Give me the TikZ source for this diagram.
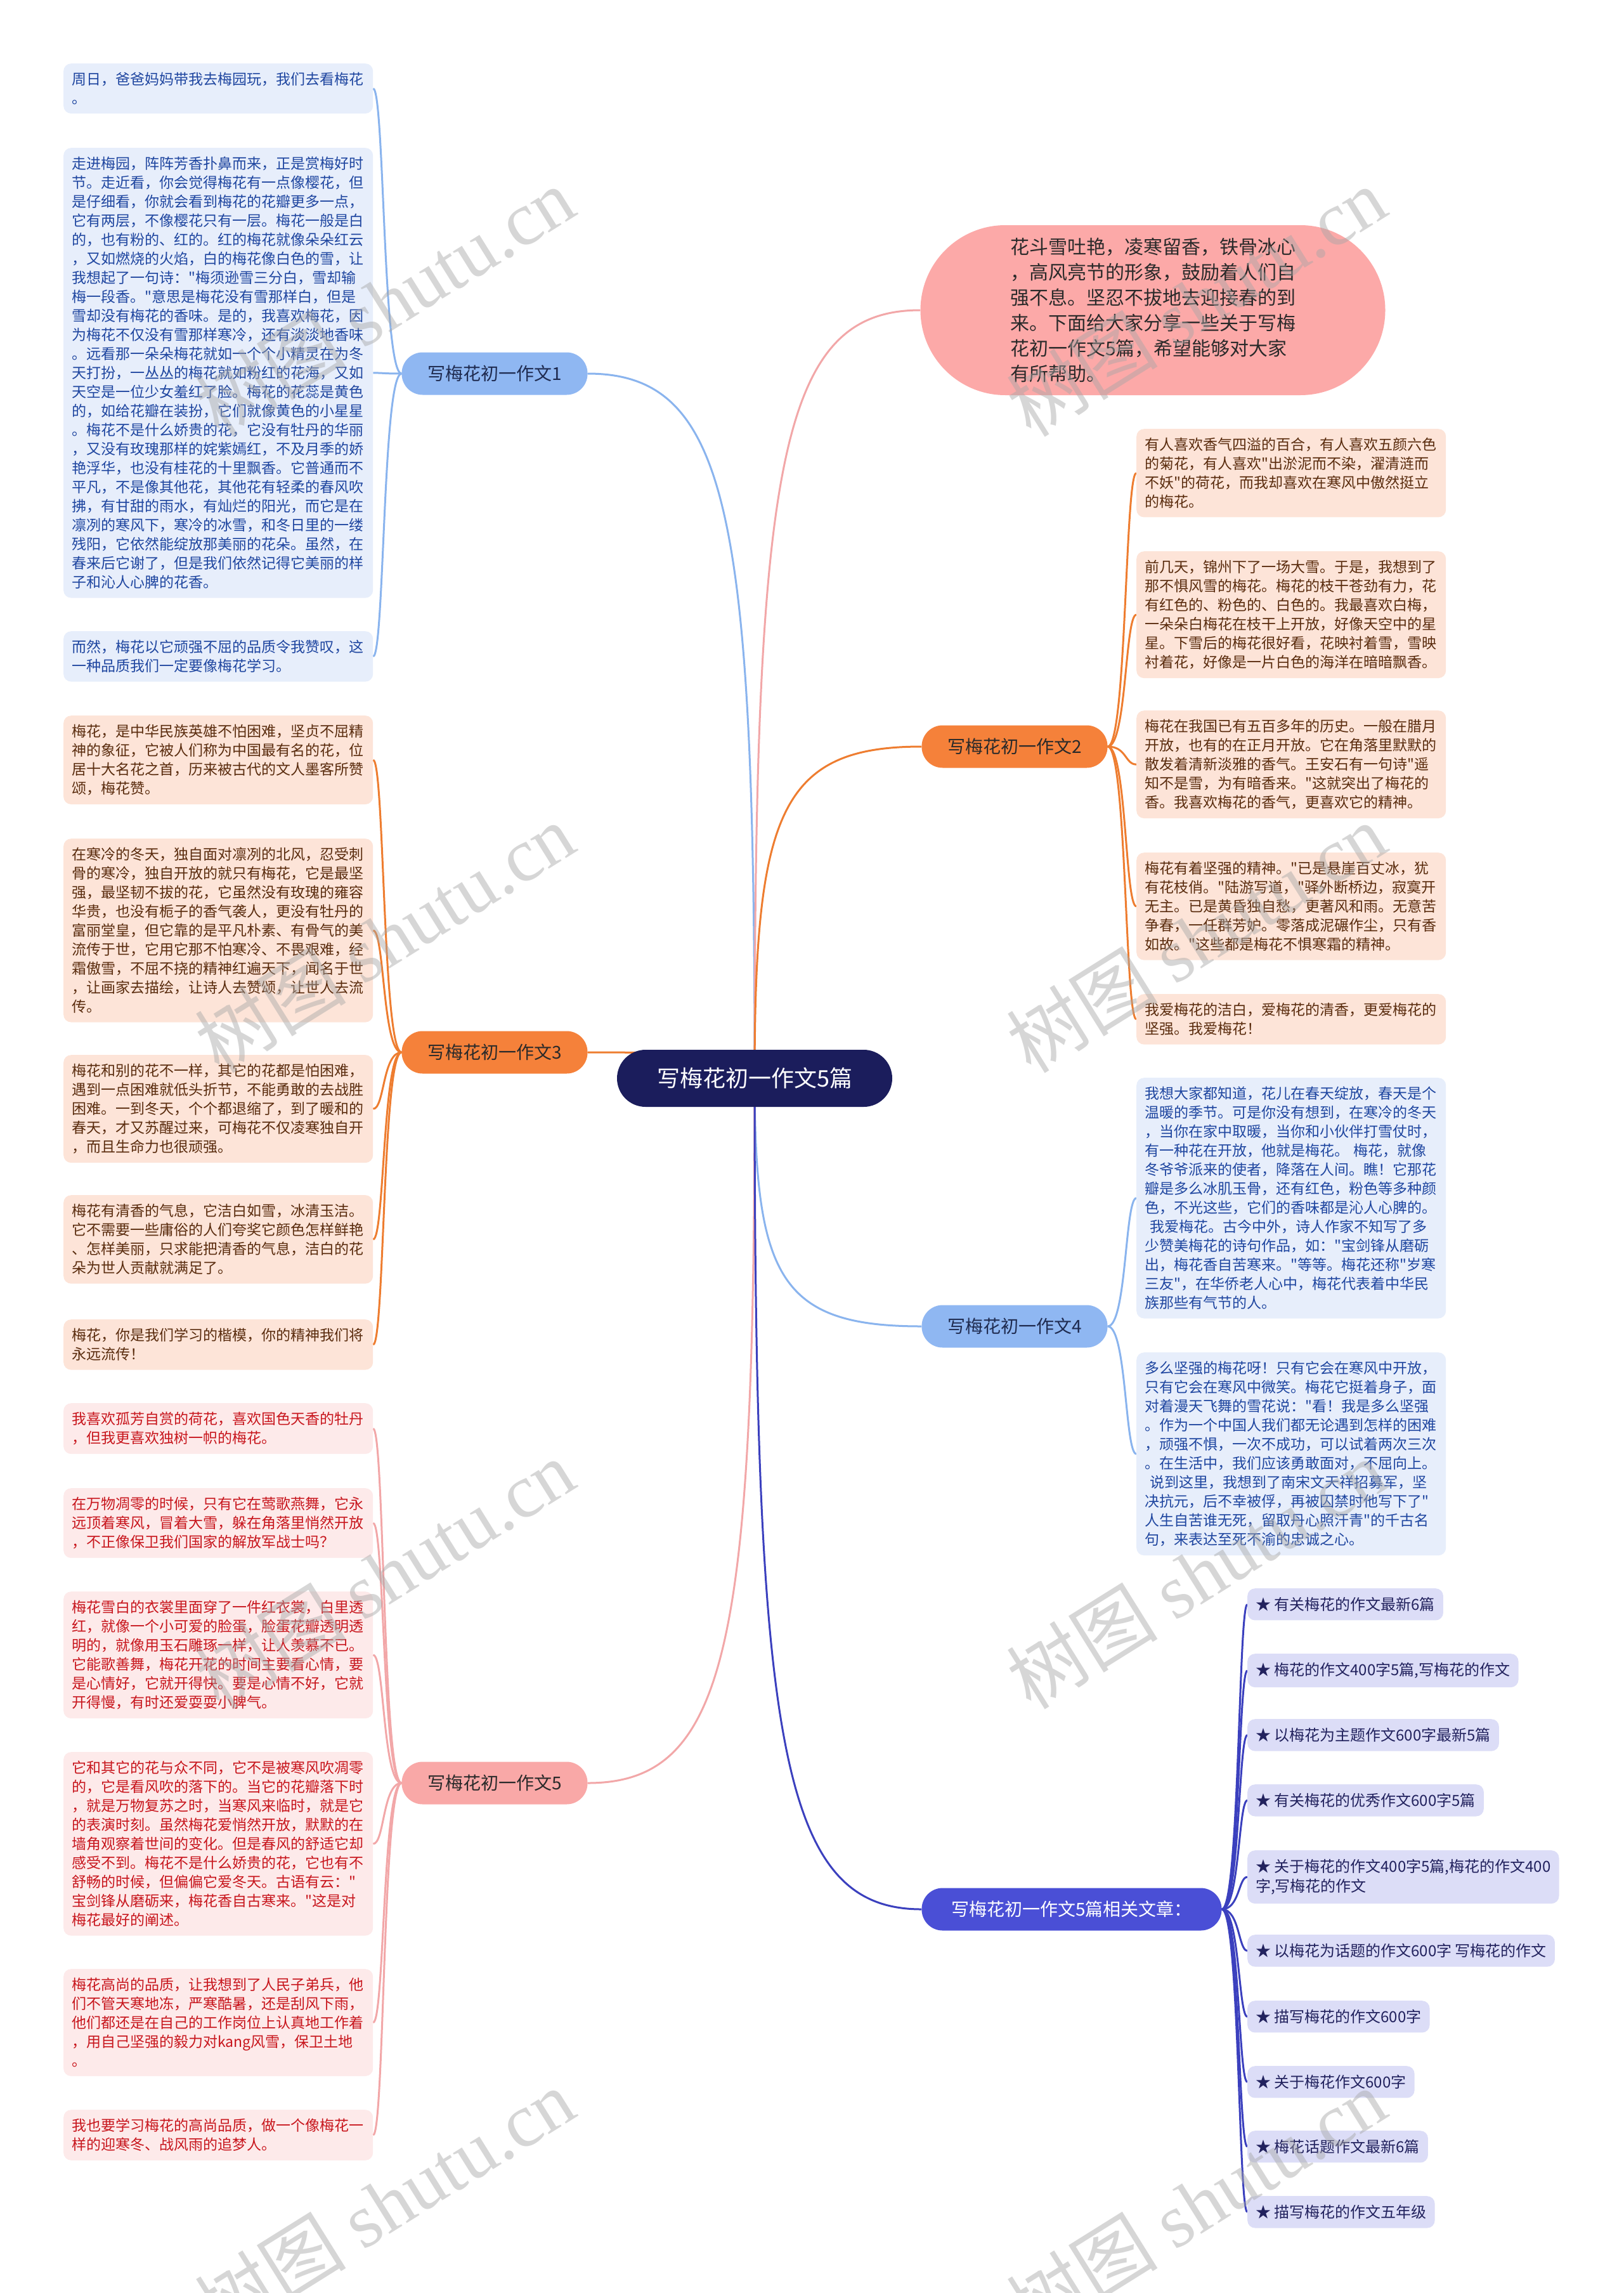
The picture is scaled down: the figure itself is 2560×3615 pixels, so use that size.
\documentclass[tikz,border=0pt]{standalone}
\usepackage{fontspec}
\setmainfont{Noto Sans CJK SC}[Ligatures=TeXOff]
\newfontfamily\wmserif{Liberation Serif}
\usetikzlibrary{calc}
\pgfdeclarelayer{bg}
\pgfdeclarelayer{fg}
\pgfsetlayers{bg,main,fg}

\definecolor{rootfill}{HTML}{1B1D5C}
\definecolor{bluefill}{HTML}{8FB7F2}
\definecolor{orangefill}{HTML}{F5813A}
\definecolor{pinkfill}{HTML}{F9A8A7}
\definecolor{relfill}{HTML}{4A4FD6}
\definecolor{introfill}{HTML}{FCA9A8}
\definecolor{blueline}{HTML}{8AB4EE}
\definecolor{orangeline}{HTML}{EE7D30}
\definecolor{pinkline}{HTML}{F2A7A8}
\definecolor{relline}{HTML}{3B40BE}
\definecolor{blueleaf}{HTML}{E7EEFB}
\definecolor{bluetext}{HTML}{1F46A0}
\definecolor{peachleaf}{HTML}{FDE4D8}
\definecolor{browntext}{HTML}{5A2C0E}
\definecolor{pinkleaf}{HTML}{FDEAEA}
\definecolor{redtext}{HTML}{C8161D}
\definecolor{lavleaf}{HTML}{DCDDF7}
\definecolor{navytext}{HTML}{22225E}
\definecolor{lvltext}{HTML}{2A2A2A}
\definecolor{lvlbluetext}{HTML}{1F2B50}

\tikzset{
  mmroot/.style={fill=rootfill, text=white, rounded corners=45, minimum width=434, minimum height=90, inner sep=0, font=\fontsize{36}{40}\selectfont},
  mmlevel/.style={rounded corners=33, minimum width=293, minimum height=67, inner sep=0, font=\fontsize{28}{32}\selectfont},
  mmintro/.style={fill=introfill, text=lvltext, rounded corners=134, minimum width=733, minimum height=268, inner sep=0, text width=450, align=left, font=\fontsize{30}{40}\selectfont},
  mmleaf/.style={anchor=north west, rounded corners=12, text width=462, inner xsep=13, inner ysep=14, align=left, font=\fontsize{23}{30}\selectfont},
  leafblue/.style={mmleaf, fill=blueleaf, text=bluetext},
  leafpeach/.style={mmleaf, fill=peachleaf, text=browntext},
  leafpink/.style={mmleaf, fill=pinkleaf, text=redtext},
  mmrel/.style={anchor=north west, rounded corners=12, inner xsep=13, inner ysep=14, align=left, fill=lavleaf, text=navytext, font=\fontsize{24}{31}\selectfont},
  mainln/.style={line width=3},
  leafln/.style={line width=3},
  wm/.style={anchor=base west, rotate=32, text=gray!70, opacity=0.45, inner sep=0, font=\fontsize{120}{120}\selectfont}
}

\begin{document}
\begin{tikzpicture}[x=1pt,y=-1pt]
\useasboundingbox (0,0) rectangle (2560,3615);
\begin{pgfonlayer}{bg}
\fill[white] (0,0) rectangle (2560,3615);
\end{pgfonlayer}

% ---- root and first level ----
\node[mmroot] (root) at (1190,1700) {写梅花初一作文5篇};
\node[mmlevel, fill=bluefill, text=lvlbluetext] (n1) at (780,589) {写梅花初一作文1};
\node[mmlevel, fill=orangefill, text=lvltext] (n3) at (780,1659) {写梅花初一作文3};
\node[mmlevel, fill=pinkfill, text=lvltext] (n5) at (780,2811) {写梅花初一作文5};
\node[mmlevel, fill=orangefill, text=lvltext] (n2) at (1600,1177) {写梅花初一作文2};
\node[mmlevel, fill=bluefill, text=lvlbluetext] (n4) at (1600,2091) {写梅花初一作文4};
\node[mmlevel, fill=relfill, text=white, minimum width=473] (rel) at (1690,3010) {写梅花初一作文5篇相关文章：};
\node[mmintro] (intro) at (1818,489) {花斗雪吐艳，凌寒留香，铁骨冰心\\，高风亮节的形象，鼓励着人们自\\强不息。坚忍不拔地去迎接春的到\\来。下面给大家分享一些关于写梅\\花初一作文5篇，希望能够对大家\\有所帮助。};

% ---- branch 1 ----
\node[leafblue] (a1) at (100,100) {周日，爸爸妈妈带我去梅园玩，我们去看梅花\\。};
\node[leafblue] (a2) at (100,233) {走进梅园，阵阵芳香扑鼻而来，正是赏梅好时\\节。走近看，你会觉得梅花有一点像樱花，但\\是仔细看，你就会看到梅花的花瓣更多一点，\\它有两层，不像樱花只有一层。梅花一般是白\\的，也有粉的、红的。红的梅花就像朵朵红云\\，又如燃烧的火焰，白的梅花像白色的雪，让\\我想起了一句诗："梅须逊雪三分白，雪却输\\梅一段香。"意思是梅花没有雪那样白，但是\\雪却没有梅花的香味。是的，我喜欢梅花，因\\为梅花不仅没有雪那样寒冷，还有淡淡地香味\\。远看那一朵朵梅花就如一个个小精灵在为冬\\天打扮，一丛丛的梅花就如粉红的花海，又如\\天空是一位少女羞红了脸。梅花的花蕊是黄色\\的，如给花瓣在装扮，它们就像黄色的小星星\\。梅花不是什么娇贵的花，它没有牡丹的华丽\\，又没有玫瑰那样的姹紫嫣红，不及月季的娇\\艳浮华，也没有桂花的十里飘香。它普通而不\\平凡，不是像其他花，其他花有轻柔的春风吹\\拂，有甘甜的雨水，有灿烂的阳光，而它是在\\凛冽的寒风下，寒冷的冰雪，和冬日里的一缕\\残阳，它依然能绽放那美丽的花朵。虽然，在\\春来后它谢了，但是我们依然记得它美丽的样\\子和沁人心脾的花香。};
\node[leafblue] (a3) at (100,995) {而然，梅花以它顽强不屈的品质令我赞叹，这\\一种品质我们一定要像梅花学习。};

% ---- branch 3 ----
\node[leafpeach] (c1) at (100,1128) {梅花，是中华民族英雄不怕困难，坚贞不屈精\\神的象征，它被人们称为中国最有名的花，位\\居十大名花之首，历来被古代的文人墨客所赞\\颂，梅花赞。};
\node[leafpeach] (c2) at (100,1322) {在寒冷的冬天，独自面对凛冽的北风，忍受刺\\骨的寒冷，独自开放的就只有梅花，它是最坚\\强，最坚韧不拔的花，它虽然没有玫瑰的雍容\\华贵，也没有栀子的香气袭人，更没有牡丹的\\富丽堂皇，但它靠的是平凡朴素、有骨气的美\\流传于世，它用它那不怕寒冷、不畏艰难，经\\霜傲雪，不屈不挠的精神红遍天下，闻名于世\\，让画家去描绘，让诗人去赞颂，让世人去流\\传。};
\node[leafpeach] (c3) at (100,1663) {梅花和别的花不一样，其它的花都是怕困难，\\遇到一点困难就低头折节，不能勇敢的去战胜\\困难。一到冬天，个个都退缩了，到了暖和的\\春天，才又苏醒过来，可梅花不仅凌寒独自开\\，而且生命力也很顽强。};
\node[leafpeach] (c4) at (100,1884) {梅花有清香的气息，它洁白如雪，冰清玉洁。\\它不需要一些庸俗的人们夸奖它颜色怎样鲜艳\\、怎样美丽，只求能把清香的气息，洁白的花\\朵为世人贡献就满足了。};
\node[leafpeach] (c5) at (100,2080) {梅花，你是我们学习的楷模，你的精神我们将\\永远流传！};

% ---- branch 5 ----
\node[leafpink] (e1) at (100,2212) {我喜欢孤芳自赏的荷花，喜欢国色天香的牡丹\\，但我更喜欢独树一帜的梅花。};
\node[leafpink] (e2) at (100,2346) {在万物凋零的时候，只有它在莺歌燕舞，它永\\远顶着寒风，冒着大雪，躲在角落里悄然开放\\，不正像保卫我们国家的解放军战士吗？};
\node[leafpink] (e3) at (100,2509) {梅花雪白的衣裳里面穿了一件红衣裳，白里透\\红，就像一个小可爱的脸蛋，脸蛋花瓣透明透\\明的，就像用玉石雕琢一样，让人羡慕不已。\\它能歌善舞，梅花开花的时间主要看心情，要\\是心情好，它就开得快。要是心情不好，它就\\开得慢，有时还爱耍耍小脾气。};
\node[leafpink] (e4) at (100,2762) {它和其它的花与众不同，它不是被寒风吹凋零\\的，它是看风吹的落下的。当它的花瓣落下时\\，就是万物复苏之时，当寒风来临时，就是它\\的表演时刻。虽然梅花爱悄然开放，默默的在\\墙角观察着世间的变化。但是春风的舒适它却\\感受不到。梅花不是什么娇贵的花，它也有不\\舒畅的时候，但偏偏它爱冬天。古语有云："\\宝剑锋从磨砺来，梅花香自古寒来。"这是对\\梅花最好的阐述。};
\node[leafpink] (e5) at (100,3104) {梅花高尚的品质，让我想到了人民子弟兵，他\\们不管天寒地冻，严寒酷暑，还是刮风下雨，\\他们都还是在自己的工作岗位上认真地工作着\\，用自己坚强的毅力对kang风雪，保卫土地\\。};
\node[leafpink] (e6) at (100,3326) {我也要学习梅花的高尚品质，做一个像梅花一\\样的迎寒冬、战风雨的追梦人。};

% ---- branch 2 ----
\node[leafpeach] (b1) at (1792,676) {有人喜欢香气四溢的百合，有人喜欢五颜六色\\的菊花，有人喜欢"出淤泥而不染，濯清涟而\\不妖"的荷花，而我却喜欢在寒风中傲然挺立\\的梅花。};
\node[leafpeach] (b2) at (1792,869) {前几天，锦州下了一场大雪。于是，我想到了\\那不惧风雪的梅花。梅花的枝干苍劲有力，花\\有红色的、粉色的、白色的。我最喜欢白梅，\\一朵朵白梅花在枝干上开放，好像天空中的星\\星。下雪后的梅花很好看，花映衬着雪，雪映\\衬着花，好像是一片白色的海洋在暗暗飘香。};
\node[leafpeach] (b3) at (1792,1120) {梅花在我国已有五百多年的历史。一般在腊月\\开放，也有的在正月开放。它在角落里默默的\\散发着清新淡雅的香气。王安石有一句诗"遥\\知不是雪，为有暗香来。"这就突出了梅花的\\香。我喜欢梅花的香气，更喜欢它的精神。};
\node[leafpeach] (b4) at (1792,1344) {梅花有着坚强的精神。"已是悬崖百丈冰，犹\\有花枝俏。"陆游写道，"驿外断桥边，寂寞开\\无主。已是黄昏独自愁，更著风和雨。无意苦\\争春，一任群芳妒。零落成泥碾作尘，只有香\\如故。"这些都是梅花不惧寒霜的精神。};
\node[leafpeach] (b5) at (1792,1567) {我爱梅花的洁白，爱梅花的清香，更爱梅花的\\坚强。我爱梅花！};

% ---- branch 4 ----
\node[leafblue] (d1) at (1792,1699) {我想大家都知道，花儿在春天绽放，春天是个\\温暖的季节。可是你没有想到，在寒冷的冬天\\，当你在家中取暖，当你和小伙伴打雪仗时，\\有一种花在开放，他就是梅花。 梅花，就像\\冬爷爷派来的使者，降落在人间。瞧！它那花\\瓣是多么冰肌玉骨，还有红色，粉色等多种颜\\色，不光这些，它们的香味都是沁人心脾的。\\\hspace*{8pt}我爱梅花。古今中外，诗人作家不知写了多\\少赞美梅花的诗句作品，如："宝剑锋从磨砺\\出，梅花香自苦寒来。"等等。梅花还称"岁寒\\三友"，在华侨老人心中，梅花代表着中华民\\族那些有气节的人。};
\node[leafblue] (d2) at (1792,2132) {多么坚强的梅花呀！只有它会在寒风中开放，\\只有它会在寒风中微笑。梅花它挺着身子，面\\对着漫天飞舞的雪花说："看！我是多么坚强\\。作为一个中国人我们都无论遇到怎样的困难\\，顽强不惧，一次不成功，可以试着两次三次\\。在生活中，我们应该勇敢面对，不屈向上。\\\hspace*{8pt}说到这里，我想到了南宋文天祥招募军，坚\\决抗元，后不幸被俘，再被囚禁时他写下了"\\人生自苦谁无死，留取丹心照汗青"的千古名\\句，来表达至死不渝的忠诚之心。};

% ---- related articles ----
\node[mmrel] (r1) at (1967,2504) {★ 有关梅花的作文最新6篇};
\node[mmrel] (r2) at (1967,2607) {★ 梅花的作文400字5篇,写梅花的作文};
\node[mmrel] (r3) at (1967,2710) {★ 以梅花为主题作文600字最新5篇};
\node[mmrel] (r4) at (1967,2813) {★ 有关梅花的优秀作文600字5篇};
\node[mmrel] (r5) at (1967,2917) {★ 关于梅花的作文400字5篇,梅花的作文400\\字,写梅花的作文};
\node[mmrel] (r6) at (1967,3050) {★ 以梅花为话题的作文600字 写梅花的作文};
\node[mmrel] (r7) at (1967,3154) {★ 描写梅花的作文600字};
\node[mmrel] (r8) at (1967,3257) {★ 关于梅花作文600字};
\node[mmrel] (r9) at (1967,3359) {★ 梅花话题作文最新6篇};
\node[mmrel] (r10) at (1967,3462) {★ 描写梅花的作文五年级};

% ---- connectors ----
\begin{pgfonlayer}{bg}
\draw[blueline, mainln] (root.center) .. controls +(0,-889) and +(223,0) .. (n1.east);
\draw[pinkline, mainln] (root.center) .. controls +(0,-968) and +(-223,0) .. (intro.west);
\draw[orangeline, mainln] (root.center) .. controls +(0,-418) and +(-223,0) .. (n2.west);
\draw[orangeline, mainln] (root.center) .. controls +(0,-33) and +(223,0) .. (n3.east);
\draw[blueline, mainln] (root.center) .. controls +(0,314) and +(-223,0) .. (n4.west);
\draw[pinkline, mainln] (root.center) .. controls +(0,888) and +(223,0) .. (n5.east);
\draw[relline, mainln] (root.center) .. controls +(0,1048) and +(-223,0) .. (rel.west);

\foreach \c in {a1,a2,a3}
  \draw[blueline, leafln] (n1.west) .. controls +(-30,0) and +(18,0) .. (\c.east);
\foreach \c in {c1,c2,c3,c4,c5}
  \draw[orangeline, leafln] (n3.west) .. controls +(-30,0) and +(18,0) .. (\c.east);
\foreach \c in {e1,e2,e3,e4,e5,e6}
  \draw[pinkline, leafln] (n5.west) .. controls +(-30,0) and +(18,0) .. (\c.east);
\foreach \c in {b1,b2,b3,b4,b5}
  \draw[orangeline, leafln] (n2.east) .. controls +(30,0) and +(-18,0) .. (\c.west);
\foreach \c in {d1,d2}
  \draw[blueline, leafln] (n4.east) .. controls +(30,0) and +(-18,0) .. (\c.west);
\foreach \c in {r1,r2,r3,r4,r5,r6,r7,r8,r9,r10}
  \draw[relline, leafln] (rel.east) .. controls +(28,0) and +(-14,0) .. (\c.west);
\end{pgfonlayer}

% ---- watermarks ----
\begin{pgfonlayer}{fg}
\foreach \wx/\wy [count=\i] in {346/692, 1626/692, 346/1695, 1626/1695, 346/2698, 1626/2698, 346/3690, 1626/3690}
  \node[wm] (wm\i) at (\wx,\wy) {树图 {\wmserif shutu.cn}};
\end{pgfonlayer}
\end{tikzpicture}
\end{document}
